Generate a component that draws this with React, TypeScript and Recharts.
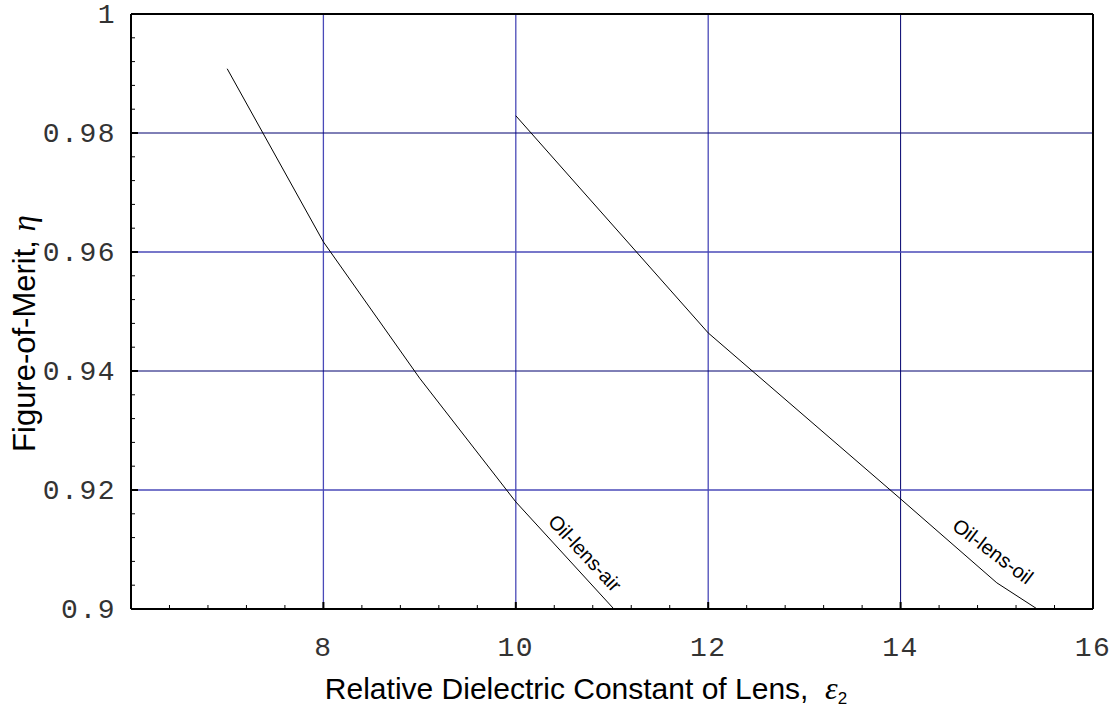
import { LineChart, Line, XAxis, YAxis, ReferenceLine, ReferenceDot, Label } from 'recharts';

// axis ticks
const X_TICKS = [8, 10, 12, 14, 16];
const X_MINOR = [6.4, 6.8, 7.2, 7.6, 8.4, 8.8, 9.2, 9.6, 10.4, 10.8, 11.2, 11.6, 12.4, 12.8, 13.2, 13.6, 14.4, 14.8, 15.2, 15.6];
const Y_TICKS = [0.9, 0.92, 0.94, 0.96, 0.98, 1];
const Y_MINOR = [
  0.904, 0.908, 0.912, 0.916, 0.924, 0.928, 0.932, 0.936, 0.944, 0.948,
  0.952, 0.956, 0.964, 0.968, 0.972, 0.976, 0.984, 0.988, 0.992, 0.996,
];

// curves (eps_r vs eta)
const AIR_EPS = [7, 8, 9, 10, 11.02];
const AIR_ETA = [0.9908, 0.9617, 0.9388, 0.918, 0.9];
const OIL_EPS = [10, 12, 14, 15, 15.42];
const OIL_ETA = [0.9829, 0.9464, 0.9185, 0.9044, 0.9];

// in-plot curve labels
const CURVE_LABELS = ['Oil-lens-air', 'Oil-lens-oil'];
const LABEL_EPS = [10.72, 14.96];
const LABEL_ETA = [0.9094, 0.9097];
const LABEL_ANGLES = [47, 37];

// grid lines
const GRID_X = [8, 10, 12, 14];
const GRID_Y = [0.92, 0.94, 0.96, 0.98];
const DARK_GRID = [14, 0.94, 0.98];

const airData = AIR_EPS.map((x, i) => ({ x, y: AIR_ETA[i] }));
const oilData = OIL_EPS.map((x, i) => ({ x, y: OIL_ETA[i] }));

const MONO = "'Liberation Mono', 'DejaVu Sans Mono', monospace";
const SANS = "'Liberation Sans', Arial, sans-serif";
const SERIF = "'Liberation Serif', 'DejaVu Serif', serif";
const MAJOR_LEN = 7;
const MINOR_LEN = 4;

const sortNum = (a: number[]) => [...a].sort((p, q) => p - q);

function tickLine(major: boolean, x1: number, y1: number, x2: number, y2: number) {
  return <line x1={x1} y1={y1} x2={x2} y2={y2} stroke="#000" strokeWidth={major ? 2 : 1} />;
}

function BottomTick(props: any) {
  const { x, y, payload } = props;
  const major = X_TICKS.includes(payload.value);
  return (
    <g>
      {tickLine(major, x, y, x, y - (major ? MAJOR_LEN : MINOR_LEN))}
      {major && (
        <text x={x} y={y + 47} textAnchor="middle" fontFamily={MONO} fontSize={28} letterSpacing={1.5} fill="#333">
          {payload.value}
        </text>
      )}
    </g>
  );
}

function LeftTick(props: any) {
  const { x, y, payload } = props;
  const major = Y_TICKS.includes(payload.value);
  return (
    <g>
      {tickLine(major, x, y, x + (major ? MAJOR_LEN : MINOR_LEN), y)}
      {major && (
        <text x={x - 15} y={y + 9} textAnchor="end" fontFamily={MONO} fontSize={28} letterSpacing={1.5} fill="#333">
          {payload.value}
        </text>
      )}
    </g>
  );
}

function TopTick(props: any) {
  const { x, y, payload } = props;
  const major = X_TICKS.includes(payload.value);
  return <g>{tickLine(major, x, y, x, y + (major ? MAJOR_LEN : MINOR_LEN))}</g>;
}

function RightTick(props: any) {
  const { x, y, payload } = props;
  const major = Y_TICKS.includes(payload.value);
  return <g>{tickLine(major, x, y, x - (major ? MAJOR_LEN : MINOR_LEN), y)}</g>;
}

function XTitle(props: any) {
  const { x, y, width } = props.viewBox;
  return (
    <text x={x + width / 2 - 26} y={y + 90} textAnchor="middle" fontFamily={SANS} fontSize={30} fill="#000">
      Relative Dielectric Constant of Lens,{'\u00a0\u00a0'}
      <tspan fontFamily={SERIF} fontStyle="italic" fontSize={32}>ε</tspan>
      <tspan fontSize={17} dy={5}>2</tspan>
    </text>
  );
}

function YTitle(props: any) {
  const { y, height } = props.viewBox;
  const cx = 35;
  const cy = y + height / 2 + 22;
  return (
    <text x={cx} y={cy} transform={`rotate(-90 ${cx} ${cy})`} textAnchor="middle" fontFamily={SANS} fontSize={31} fill="#000">
      Figure-of-Merit,{'\u00a0'}
      <tspan fontFamily={SERIF} fontStyle="italic" fontSize={33}>η</tspan>
    </text>
  );
}

export default function App() {
  const frame = { stroke: '#000', strokeWidth: 2 };
  return (
    <div style={{ position: 'absolute', left: 0, top: 0, background: '#fff' }}>
      <LineChart width={1119} height={709} margin={{ top: 13, right: 25, bottom: 0, left: 0 }}>
        <XAxis
          dataKey="x"
          type="number"
          domain={[6, 16]}
          ticks={sortNum([...X_TICKS, ...X_MINOR])}
          interval={0}
          height={100}
          tickSize={0}
          tickMargin={0}
          tickLine={false}
          axisLine={frame}
          tick={<BottomTick />}
        >
          <Label content={<XTitle />} />
        </XAxis>
        <XAxis
          xAxisId="top"
          orientation="top"
          type="number"
          domain={[6, 16]}
          ticks={sortNum([...X_TICKS, ...X_MINOR])}
          interval={0}
          height={1}
          tickSize={0}
          tickMargin={0}
          tickLine={false}
          axisLine={frame}
          tick={<TopTick />}
        />
        <YAxis
          type="number"
          domain={[0.9, 1]}
          ticks={sortNum([...Y_TICKS, ...Y_MINOR])}
          interval={0}
          width={131}
          tickSize={0}
          tickMargin={0}
          tickLine={false}
          axisLine={frame}
          tick={<LeftTick />}
        >
          <Label content={<YTitle />} />
        </YAxis>
        <YAxis
          yAxisId="right"
          orientation="right"
          type="number"
          domain={[0.9, 1]}
          ticks={sortNum([...Y_TICKS, ...Y_MINOR])}
          interval={0}
          width={1}
          tickSize={0}
          tickMargin={0}
          tickLine={false}
          axisLine={frame}
          tick={<RightTick />}
        />

        {GRID_X.map((v) => (
          <ReferenceLine
            key={`gx${v}`}
            x={v}
            stroke={DARK_GRID.includes(v) ? '#00006e' : '#4a4ab8'}
            strokeWidth={DARK_GRID.includes(v) ? 1 : 1.3}
          />
        ))}
        {GRID_Y.map((v) => (
          <ReferenceLine
            key={`gy${v}`}
            y={v}
            stroke={DARK_GRID.includes(v) ? '#00006e' : '#4a4ab8'}
            strokeWidth={DARK_GRID.includes(v) ? 1 : 1.3}
          />
        ))}

        <Line data={airData} dataKey="y" stroke="#000" strokeWidth={1} dot={false} isAnimationActive={false} />
        <Line data={oilData} dataKey="y" stroke="#000" strokeWidth={1} dot={false} isAnimationActive={false} />

        {CURVE_LABELS.map((text, i) => (
          <ReferenceDot
            key={text}
            x={LABEL_EPS[i]}
            y={LABEL_ETA[i]}
            r={0}
            shape={(p: any) => (
              <text
                x={p.cx}
                y={p.cy}
                transform={`rotate(${LABEL_ANGLES[i]} ${p.cx} ${p.cy})`}
                textAnchor="middle"
                dominantBaseline="central"
                fontFamily={SANS}
                fontSize={20}
                fill="#000"
              >
                {text}
              </text>
            )}
          />
        ))}
      </LineChart>
    </div>
  );
}
